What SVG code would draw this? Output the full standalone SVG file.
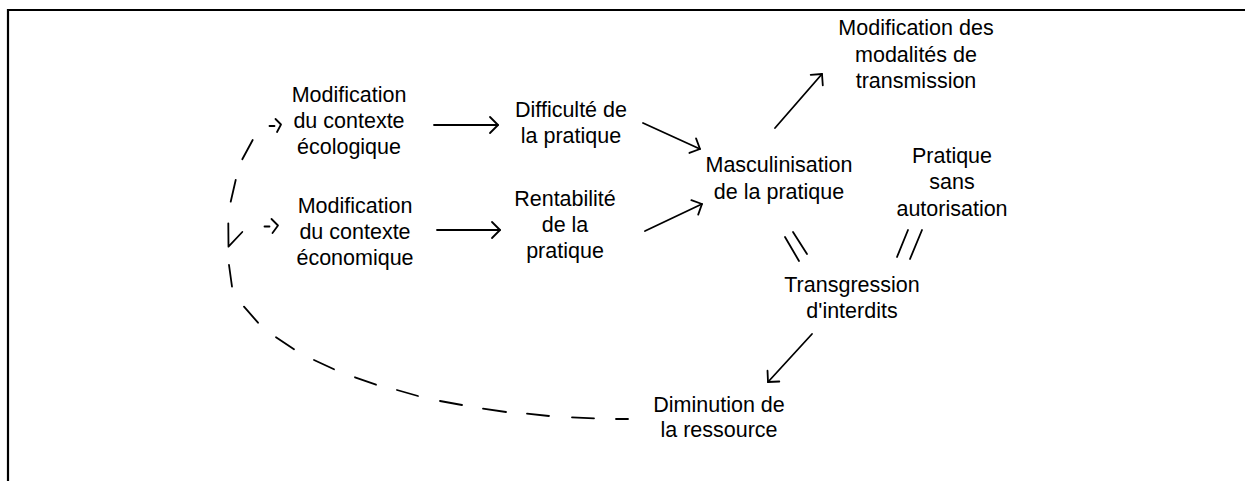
<svg xmlns="http://www.w3.org/2000/svg" width="1245" height="481" viewBox="0 0 1245 481">
<style>
text{font-family:"Liberation Sans",Arial,sans-serif;font-size:21.5px;fill:#000;text-anchor:middle}
.c line,.c path{stroke:#000;stroke-width:1.8;fill:none;stroke-linecap:round;stroke-linejoin:round}
.a{marker-end:url(#ah)}
</style>
<defs>
<marker id="ah" markerUnits="userSpaceOnUse" viewBox="-12 -12 14 24" markerWidth="14" markerHeight="24" refX="0" refY="0" orient="auto" overflow="visible">
<path d="M-8,-8 L0,0 L-8,8" fill="none" stroke="#000" stroke-width="1.8" stroke-linecap="round" stroke-linejoin="round"/>
</marker>
</defs>
<rect width="1245" height="481" fill="#fff"/>
<path d="M8,481 V10 H1245" fill="none" stroke="#000" stroke-width="2.2"/>
<g id="n-ecologique"><text x="349" y="102">Modification</text><text x="349" y="128">du contexte</text><text x="349" y="154">écologique</text></g>
<g id="n-economique"><text x="355" y="213">Modification</text><text x="355" y="239">du contexte</text><text x="355" y="265">économique</text></g>
<g id="n-difficulte"><text x="571" y="117">Difficulté de</text><text x="571" y="143">la pratique</text></g>
<g id="n-rentabilite"><text x="565" y="206">Rentabilité</text><text x="565" y="232">de la</text><text x="565" y="258">pratique</text></g>
<g id="n-masculinisation"><text x="779" y="172">Masculinisation</text><text x="779" y="199">de la pratique</text></g>
<g id="n-transmission"><text x="916" y="35">Modification des</text><text x="916" y="62">modalités de</text><text x="916" y="88">transmission</text></g>
<g id="n-autorisation"><text x="952" y="163">Pratique</text><text x="952" y="189">sans</text><text x="952" y="216">autorisation</text></g>
<g id="n-transgression"><text x="852" y="292">Transgression</text><text x="852" y="318">d'interdits</text></g>
<g id="n-diminution"><text x="719" y="412">Diminution de</text><text x="719" y="437">la ressource</text></g>
<g id="connectors" class="c">
<line class="a" x1="434" y1="125" x2="498" y2="125"/>
<line class="a" x1="437" y1="230" x2="500" y2="230"/>
<line class="a" x1="643" y1="123" x2="700" y2="149"/>
<line class="a" x1="645" y1="231" x2="702" y2="204"/>
<line class="a" x1="775" y1="128" x2="822" y2="74"/>
<line class="a" x1="812" y1="334" x2="768" y2="382"/>
<line x1="785" y1="237" x2="799" y2="261"/>
<line x1="793" y1="232" x2="807" y2="254"/>
<line x1="897" y1="257" x2="908" y2="230"/>
<line x1="910" y1="259" x2="922" y2="230"/>
<line x1="628" y1="419" x2="616" y2="419"/>
<line x1="594" y1="418.3" x2="572" y2="417.3"/>
<line x1="549" y1="416" x2="527" y2="413.7"/>
<line x1="506" y1="412" x2="483" y2="408.7"/>
<line x1="462" y1="405" x2="440" y2="401"/>
<line x1="418" y1="396" x2="397" y2="390"/>
<line x1="376" y1="384.7" x2="355" y2="377.3"/>
<line x1="334" y1="369.3" x2="314" y2="360"/>
<line x1="294" y1="349.3" x2="276" y2="337.3"/>
<line x1="258" y1="322.7" x2="244" y2="306.7"/>
<line x1="232" y1="286.7" x2="229" y2="265"/>
<path d="M228.3,223.3 L228.5,246.7 L242.3,232"/>
<line x1="230.7" y1="201.7" x2="235.7" y2="180"/>
<line x1="242.3" y1="159.3" x2="252.7" y2="140"/>
<line x1="269.5" y1="126" x2="274.5" y2="126"/>
<path d="M275.5,119 L281,124.5 L277,132"/>
<line x1="264.5" y1="226.5" x2="269.5" y2="226.5"/>
<path d="M271.5,219 L278,225.5 L272.5,233"/>
</g>
</svg>
